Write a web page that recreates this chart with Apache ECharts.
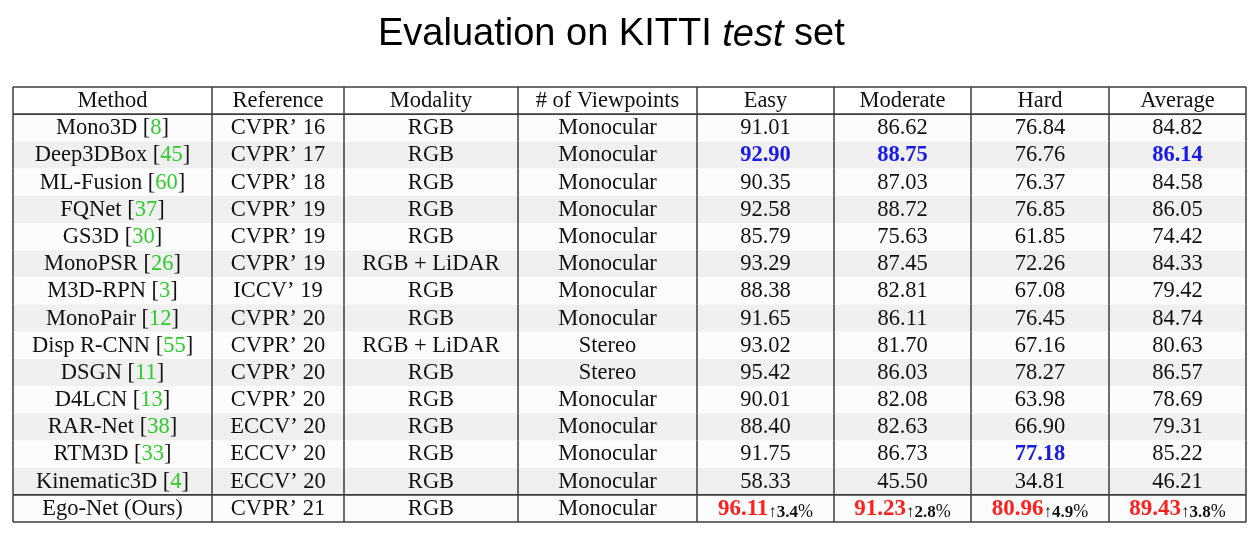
<!DOCTYPE html>
<html>
<head>
<meta charset="utf-8">
<script src="https://cdn.jsdelivr.net/npm/echarts@6/dist/echarts.min.js"></script>
<style>html,body{margin:0;padding:0;background:#fff;}#main{width:1258px;height:537px;}</style>
</head>
<body>
<div id="main"></div>
<script>
const headers = ['Method', 'Reference', 'Modality', '# of Viewpoints', 'Easy', 'Moderate', 'Hard', 'Average'];
const methods = ['Mono3D', 'Deep3DBox', 'ML-Fusion', 'FQNet', 'GS3D', 'MonoPSR', 'M3D-RPN', 'MonoPair', 'Disp R-CNN', 'DSGN', 'D4LCN', 'RAR-Net', 'RTM3D', 'Kinematic3D', 'Ego-Net (Ours)'];
const citations = ['8', '45', '60', '37', '30', '26', '3', '12', '55', '11', '13', '38', '33', '4', ''];
const references = ['CVPR’ 16', 'CVPR’ 17', 'CVPR’ 18', 'CVPR’ 19', 'CVPR’ 19', 'CVPR’ 19', 'ICCV’ 19', 'CVPR’ 20', 'CVPR’ 20', 'CVPR’ 20', 'CVPR’ 20', 'ECCV’ 20', 'ECCV’ 20', 'ECCV’ 20', 'CVPR’ 21'];
const modalities = ['RGB', 'RGB', 'RGB', 'RGB', 'RGB', 'RGB + LiDAR', 'RGB', 'RGB', 'RGB + LiDAR', 'RGB', 'RGB', 'RGB', 'RGB', 'RGB', 'RGB'];
const viewpoints = ['Monocular', 'Monocular', 'Monocular', 'Monocular', 'Monocular', 'Monocular', 'Monocular', 'Monocular', 'Stereo', 'Stereo', 'Monocular', 'Monocular', 'Monocular', 'Monocular', 'Monocular'];
const easy = [91.01, 92.90, 90.35, 92.58, 85.79, 93.29, 88.38, 91.65, 93.02, 95.42, 90.01, 88.40, 91.75, 58.33, 96.11];
const moderate = [86.62, 88.75, 87.03, 88.72, 75.63, 87.45, 82.81, 86.11, 81.70, 86.03, 82.08, 82.63, 86.73, 45.50, 91.23];
const hard = [76.84, 76.76, 76.37, 76.85, 61.85, 72.26, 67.08, 76.45, 67.16, 78.27, 63.98, 66.90, 77.18, 34.81, 80.96];
const average = [84.82, 86.14, 84.58, 86.05, 74.42, 84.33, 79.42, 84.74, 80.63, 86.57, 78.69, 79.31, 85.22, 46.21, 89.43];
// per metric column: method highlighted in blue, and the gain of ours
const blueMethod = ['Deep3DBox', 'Deep3DBox', 'RTM3D', 'Deep3DBox'];
const oursGain = ['3.4', '2.8', '4.9', '3.8'];
const oursMethod = 'Ego-Net (Ours)';

// layout (table units)
const colEdges = [0, 199, 331, 505, 684, 821, 958, 1096, 1233];

const metrics = [easy, moderate, hard, average];
const rowNames = ['header'].concat(methods);
const cells = [];
for (let r = 0; r < rowNames.length; r++) {
  for (let c = 0; c < headers.length; c++) cells.push([c, r]);
}

function cellText(c, r) {
  if (r === 0) return headers[c];
  const i = r - 1;
  if (c === 0) return citations[i] ? methods[i] + ' [{g|' + citations[i] + '}]' : methods[i];
  if (c === 1) return references[i];
  if (c === 2) return modalities[i];
  if (c === 3) return viewpoints[i];
  const m = c - 4;
  const v = metrics[m][i].toFixed(2);
  if (methods[i] === oursMethod) return '{r|' + v + '}{a|↑}{s|' + oursGain[m] + '}{p|%}';
  if (methods[i] === blueMethod[m]) return '{b|' + v + '}';
  return v;
}

const FONT = '"Liberation Serif", "DejaVu Serif", serif';
const FS = 22.5;
const rich = {
  g: { fill: '#2fcc2f', fontSize: FS, fontFamily: FONT, lineHeight: 24 },
  b: { fill: '#1a1ae6', fontSize: FS, fontWeight: 'bold', fontFamily: FONT, lineHeight: 24 },
  r: { fill: '#ff1f1f', fontSize: 23, fontWeight: 'bold', fontFamily: FONT, lineHeight: 24 },
  a: { fill: '#111', fontSize: 17, fontFamily: FONT, lineHeight: 10, verticalAlign: 'bottom' },
  s: { fill: '#111', fontSize: 17, fontWeight: 'bold', fontFamily: FONT, lineHeight: 10, verticalAlign: 'bottom' },
  p: { fill: '#111', fontSize: 18, fontFamily: FONT, lineHeight: 10, verticalAlign: 'bottom' }
};

function geom(params, api) {
  const c = api.value(0), r = api.value(1);
  const x0 = api.coord([colEdges[c], r])[0];
  const x1 = api.coord([colEdges[c + 1], r])[0];
  const cy = api.coord([0, r])[1];
  const h = api.size([0, 1])[1];
  return { c, r, x0, x1, y0: cy - h / 2, y1: cy + h / 2, cy };
}

const LINE = '#3c3c3c';
const chart = echarts.init(document.getElementById('main'), null, { renderer: 'canvas' });
chart.setOption({
  backgroundColor: '#fff',
  animation: false,
  title: {
    text: '{n|Evaluation on KITTI }{i|test}{n| set}',
    left: 373,
    top: 8,
    textStyle: {
      fontWeight: 'normal',
      rich: {
        n: { fontFamily: '"Liberation Sans", Arial, sans-serif', fontSize: 38, fontWeight: 'normal', color: '#000', lineHeight: 44 },
        i: { fontFamily: '"Liberation Sans", Arial, sans-serif', fontSize: 38, fontWeight: 'normal', fontStyle: 'italic', color: '#000', lineHeight: 44 }
      }
    }
  },
  grid: { left: 13, top: 87, width: 1233, height: 435 },
  xAxis: { type: 'value', min: 0, max: colEdges[colEdges.length - 1], show: false },
  yAxis: { type: 'category', data: rowNames, inverse: true, show: false },
  series: [
    {
      type: 'custom', z: 1, data: cells, silent: true,
      renderItem: function (params, api) {
        const g = geom(params, api);
        let fill = '#fcfcfc';
        if (g.r === 0) fill = '#ffffff';
        else if (g.r % 2 === 0 && g.r < 15) fill = '#f0f0f0';
        return { type: 'rect', shape: { x: g.x0, y: g.y0, width: g.x1 - g.x0, height: g.y1 - g.y0 }, style: { fill: fill } };
      }
    },
    {
      type: 'custom', z: 2, data: cells, silent: true,
      renderItem: function (params, api) {
        const g = geom(params, api);
        const children = [];
        const ln = (x1, y1, x2, y2, w) => children.push({ type: 'line', shape: { x1, y1, x2, y2 }, style: { stroke: LINE, lineWidth: w } });
        ln(g.x1, g.y0, g.x1, g.y1, 1.5);
        if (g.c === 0) ln(g.x0, g.y0, g.x0, g.y1, 1.5);
        if (g.r === 0) { ln(g.x0, g.y0, g.x1, g.y0, 1.5); ln(g.x0, g.y1, g.x1, g.y1, 1.8); }
        if (g.r === rowNames.length - 1) { ln(g.x0, g.y0, g.x1, g.y0, 1.8); ln(g.x0, g.y1, g.x1, g.y1, 1.5); }
        children.push({
          type: 'text',
          style: {
            text: cellText(g.c, g.r),
            x: (g.x0 + g.x1) / 2, y: g.cy + 0.5,
            align: 'center', verticalAlign: 'middle',
            fontFamily: FONT, fontSize: FS, fill: '#111', lineHeight: 24,
            rich: rich
          }
        });
        return { type: 'group', children: children };
      }
    }
  ]
});
</script>
</body>
</html>
